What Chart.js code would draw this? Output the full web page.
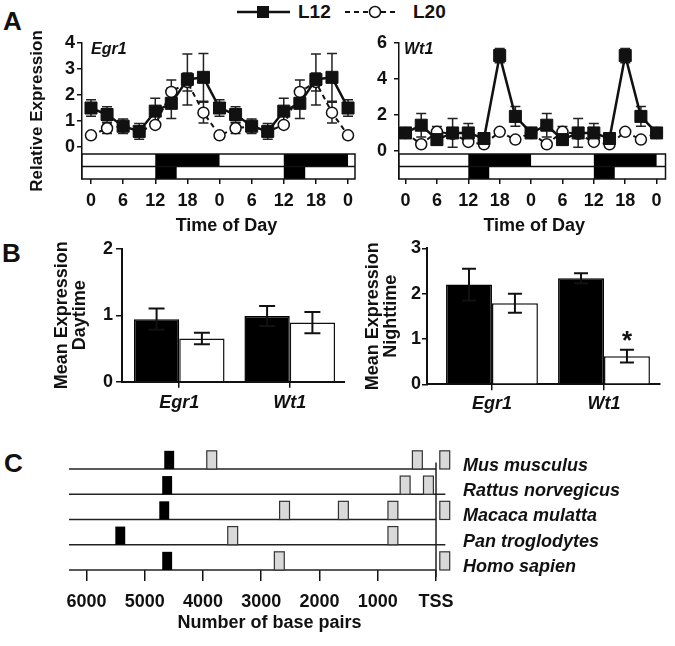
<!DOCTYPE html>
<html><head><meta charset="utf-8">
<script src="https://cdn.jsdelivr.net/npm/chart.js@4.4.1/dist/chart.umd.min.js"></script>
<style>
html,body{margin:0;padding:0;background:#fff;}
#wrap{position:relative;width:675px;height:646px;overflow:hidden;background:#fff;font-family:'Liberation Sans',Arial,sans-serif;color:#111;}
canvas{position:absolute;}
.plbl{position:absolute;font-weight:bold;font-size:26px;line-height:26px;}
.leg{position:absolute;font-weight:bold;font-size:19px;line-height:20px;}
svg{position:absolute;}
</style></head><body>
<div id="wrap">
  <div class="plbl" style="left:3px;top:8px">A</div>
  <div class="plbl" style="left:2px;top:240px">B</div>
  <div class="plbl" style="left:4px;top:450px">C</div>

  <svg style="left:235px;top:2px" width="58" height="20"><line x1="2" y1="10" x2="55" y2="10" stroke="#111" stroke-width="2.5"/><rect x="22" y="4" width="12" height="12" fill="#111"/></svg>
  <div class="leg" style="left:298px;top:2px">L12</div>
  <svg style="left:343px;top:2px" width="58" height="20"><line x1="2" y1="10" x2="54" y2="10" stroke="#111" stroke-width="2" stroke-dasharray="5 4"/><circle cx="32" cy="10" r="5.5" fill="#fff" stroke="#111" stroke-width="1.5"/></svg>
  <div class="leg" style="left:413px;top:2px">L20</div>

  <canvas id="a1" width="365" height="245" style="left:0;top:0"></canvas>
  <canvas id="a2" width="310" height="245" style="left:365px;top:0"></canvas>
  <canvas id="b1" width="345" height="185" style="left:0;top:235px"></canvas>
  <canvas id="b2" width="330" height="185" style="left:345px;top:235px"></canvas>
  <canvas id="c1" width="675" height="221" style="left:0;top:425px"></canvas>
</div>
<script>
// ---------------- DATA ----------------
const hours = [0, 3, 6, 9, 12, 15, 18, 21, 24, 27, 30, 33, 36, 39, 42, 45, 48];
const timeTickHours = [0, 6, 12, 18, 24, 30, 36, 42, 48];
const timeTickLabels = ['0', '6', '12', '18', '0', '6', '12', '18', '0'];
const seriesNames = ['L12', 'L20'];

const egr1L12    = [1.50, 1.25, 0.80, 0.60, 1.38, 1.68, 2.60, 2.68, 1.50, 1.25, 0.80, 0.60, 1.38, 1.68, 2.60, 2.68, 1.50];
const egr1L12Err = [0.32, 0.30, 0.28, 0.30, 0.50, 0.58, 0.98, 0.92, 0.32, 0.30, 0.28, 0.30, 0.50, 0.58, 0.98, 0.92, 0.32];
const egr1L20    = [0.45, 0.72, 0.80, 0.60, 0.85, 2.12, 2.50, 1.32, 0.45, 0.72, 0.80, 0.60, 0.85, 2.12, 2.50, 1.32, 0.45];
const egr1L20Err = [0.05, 0.20, 0.15, 0.15, 0.10, 0.46, 0.35, 0.40, 0.05, 0.20, 0.15, 0.15, 0.10, 0.46, 0.35, 0.40, 0.05];

const wt1L12    = [1.00, 1.43, 0.63, 1.00, 1.00, 0.69, 5.30, 1.92, 1.00, 1.43, 0.63, 1.00, 1.00, 0.69, 5.30, 1.92, 1.00];
const wt1L12Err = [0.15, 0.65, 0.30, 0.80, 0.53, 0.20, 0.40, 0.55, 0.15, 0.65, 0.30, 0.80, 0.53, 0.20, 0.40, 0.55, 0.15];
const wt1L20    = [1.00, 0.37, 1.06, 0.95, 0.50, 0.37, 1.06, 0.63, 1.00, 0.37, 1.06, 0.95, 0.50, 0.37, 1.06, 0.63, 1.00];
const wt1L20Err = [0.10, 0.10, 0.30, 0.10, 0.10, 0.10, 0.10, 0.10, 0.10, 0.10, 0.30, 0.10, 0.10, 0.10, 0.10, 0.10, 0.10];

const darkL12 = [[12, 24], [36, 48]];
const darkL20 = [[12, 16], [36, 40]];
const egr1YTicks = [0, 1, 2, 3, 4];
const wt1YTicks = [0, 2, 4, 6];

const genes = ['Egr1', 'Wt1'];
const dayL12 = [0.94, 0.99];
const dayL12Err = [0.16, 0.15];
const dayL20 = [0.65, 0.89];
const dayL20Err = [0.085, 0.16];
const nightL12 = [2.20, 2.34];
const nightL12Err = [0.35, 0.11];
const nightL20 = [1.79, 0.62];
const nightL20Err = [0.21, 0.14];
const dayYTicks = [0, 1, 2];
const nightYTicks = [0, 1, 2, 3];
const nightSig = [{series: 1, gene: 1, text: '*'}];

const species = ['Mus musculus', 'Rattus norvegicus', 'Macaca mulatta', 'Pan troglodytes', 'Homo sapien'];
const egr1Sites = [4580, 4615, 4665, 5420, 4615];
const wt1Sites = [[3850, 320, -150], [530, 130], [2600, 1590, 740, -150], [3490, 740], [2690, -150]];
const rowLineEnd = [0, -160, 0, -160, 0];
const bpTicks = [0, 1000, 2000, 3000, 4000, 5000, 6000];

// ---------------- SETUP ----------------
const FONT = "'Liberation Sans', Arial, sans-serif";
const AX = '#111';
Chart.defaults.font.family = FONT;
Chart.defaults.color = AX;
Chart.defaults.animation = false;
Chart.defaults.plugins.legend.display = false;
Chart.defaults.plugins.tooltip.enabled = false;
const bold18 = {family: FONT, size: 18, weight: 'bold'};
const ital18 = {family: FONT, size: 18, weight: 'bold', style: 'italic'};

// ---------------- PLUGINS ----------------
function drawErr(chart, o) {
  const {ctx} = chart;
  const y = chart.scales.y;
  ctx.save();
  ctx.strokeStyle = o.color || AX;
  ctx.lineWidth = o.width || 1.5;
  (o.errors || []).forEach((errs, di) => {
    const meta = chart.getDatasetMeta(di);
    const vals = chart.data.datasets[di].data;
    meta.data.forEach((el, i) => {
      const e = errs[i];
      if (!e) return;
      const v = vals[i].y;
      const t = y.getPixelForValue(v + e), b = y.getPixelForValue(v - e);
      const h = o.cap / 2;
      ctx.beginPath();
      ctx.moveTo(el.x, t); ctx.lineTo(el.x, b);
      ctx.moveTo(el.x - h, t); ctx.lineTo(el.x + h, t);
      ctx.moveTo(el.x - h, b); ctx.lineTo(el.x + h, b);
      ctx.stroke();
    });
  });
  ctx.restore();
}
const errorBars = {
  id: 'errorBars',
  beforeDatasetsDraw(chart, a, o) { if (o.layer === 'before') drawErr(chart, o); },
  afterDatasetsDraw(chart, a, o) { if (o.layer === 'after') drawErr(chart, o); }
};

const ldBars = {
  id: 'ldBars',
  beforeDatasetsDraw(chart, a, o) {
    const {ctx, chartArea: ca, scales: {x}} = chart;
    const top = ca.bottom - o.height;
    const rh = o.height / o.rows.length;
    ctx.save();
    ctx.fillStyle = '#fff';
    ctx.fillRect(ca.left, top, ca.right - ca.left, o.height);
    ctx.fillStyle = '#000';
    o.rows.forEach((segs, r) => {
      segs.forEach(([s, e]) => {
        const x0 = Math.max(ca.left, x.getPixelForValue(s));
        const x1 = Math.min(ca.right, x.getPixelForValue(e));
        ctx.fillRect(x0, top + r * rh, x1 - x0, rh);
      });
    });
    ctx.strokeStyle = AX;
    ctx.lineWidth = 1.5;
    ctx.strokeRect(ca.left, top, ca.right - ca.left, o.height);
    for (let r = 1; r < o.rows.length; r++) {
      ctx.beginPath();
      ctx.moveTo(ca.left, top + r * rh); ctx.lineTo(ca.right, top + r * rh);
      ctx.stroke();
    }
    ctx.restore();
  }
};

const cornerLabel = {
  id: 'cornerLabel',
  afterDraw(chart, a, o) {
    if (!o.text) return;
    const {ctx, chartArea: ca} = chart;
    ctx.save();
    ctx.font = 'italic bold 16px ' + FONT;
    ctx.fillStyle = AX;
    ctx.textBaseline = 'middle';
    ctx.fillText(o.text, ca.left + o.dx, ca.top + o.dy);
    ctx.restore();
  }
};

// shifts only the horizontal extent used to centre the axis title
const titleNudge = {
  id: 'titleNudge',
  afterLayout(chart, a, o) {
    if (!o.dx) return;
    const s = chart.scales[o.axis || 'x'];
    s.left += o.dx; s.right += o.dx;
  }
};

const sigMarks = {
  id: 'sigMarks',
  afterDatasetsDraw(chart, a, o) {
    if (!o.marks) return;
    const {ctx} = chart;
    const y = chart.scales.y;
    ctx.save();
    ctx.font = 'bold 26px ' + FONT;
    ctx.fillStyle = AX;
    ctx.textAlign = 'center';
    ctx.textBaseline = 'alphabetic';
    o.marks.forEach(m => {
      const el = chart.getDatasetMeta(m.series).data[m.gene];
      const v = chart.data.datasets[m.series].data[m.gene].y;
      const e = o.errors[m.series][m.gene];
      ctx.fillText(m.text, el.x, y.getPixelForValue(v + e) - 1);
    });
    ctx.restore();
  }
};

const promoter = {
  id: 'promoter',
  afterDraw(chart, a, o) {
    const {ctx, chartArea: ca, scales: {x, y}} = chart;
    const n = species.length;
    ctx.save();
    ctx.strokeStyle = '#222';
    ctx.lineWidth = 1.5;
    species.forEach((s, i) => {
      const py = y.getPixelForValue(n - 1 - i);
      ctx.beginPath();
      ctx.moveTo(x.getPixelForValue(x.max), py);
      ctx.lineTo(x.getPixelForValue(rowLineEnd[i]), py);
      ctx.stroke();
    });
    const tx = x.getPixelForValue(0);
    ctx.beginPath();
    ctx.moveTo(tx, y.getPixelForValue(o.tssTop));
    ctx.lineTo(tx, ca.bottom + 7);
    ctx.stroke();
    const hw = o.siteHalfWidth, bh = o.siteHeight;
    species.forEach((s, i) => {
      const r = n - 1 - i;
      const yb = y.getPixelForValue(r), yt = y.getPixelForValue(r + bh);
      const xa = x.getPixelForValue(egr1Sites[i] + hw), xb = x.getPixelForValue(egr1Sites[i] - hw);
      ctx.fillStyle = '#000';
      ctx.fillRect(xa, yt, xb - xa, yb - yt);
      wt1Sites[i].forEach(p => {
        const x0 = x.getPixelForValue(p + hw), x1 = x.getPixelForValue(p - hw);
        ctx.fillStyle = '#d9d9d9';
        ctx.fillRect(x0, yt, x1 - x0, yb - yt);
        ctx.strokeStyle = '#333';
        ctx.lineWidth = 1.2;
        ctx.strokeRect(x0, yt, x1 - x0, yb - yt);
      });
    });
    ctx.restore();
  }
};

// ---------------- PANEL A ----------------
function timeChart(id, o) {
  return new Chart(document.getElementById(id), {
    type: 'line',
    data: {
      datasets: [
        {label: seriesNames[0], data: hours.map((h, i) => ({x: h, y: o.l12[i]})),
         borderColor: '#111', backgroundColor: '#111', borderWidth: 2.5, tension: 0,
         pointStyle: 'rect', pointRadius: 8.5, pointBackgroundColor: '#111', pointBorderColor: '#111', pointBorderWidth: 1, clip: false},
        {label: seriesNames[1], data: hours.map((h, i) => ({x: h, y: o.l20[i]})),
         borderColor: '#111', borderWidth: 2, borderDash: [5, 4], tension: 0,
         pointStyle: 'circle', pointRadius: 5.5, pointBackgroundColor: '#fff', pointBorderColor: '#111', pointBorderWidth: 1.5, clip: false}
      ]
    },
    options: {
      responsive: false, devicePixelRatio: 1,
      layout: {padding: {top: 43, right: o.padRight, bottom: 0, left: 0}},
      scales: {
        x: {
          type: 'linear', min: o.xmin, max: o.xmax,
          afterBuildTicks: s => { s.ticks = timeTickHours.map(v => ({value: v})); },
          afterFit: s => { s.height = 66; },
          ticks: {font: bold18, color: AX, padding: 6, maxRotation: 0, autoSkip: false, callback: (v, i) => timeTickLabels[i]},
          grid: {drawOnChartArea: false, drawTicks: true, tickLength: 5, color: AX, lineWidth: 1.5},
          border: {display: false},
          title: {display: true, text: 'Time of Day', font: bold18, color: AX, padding: {top: 0, bottom: 8}}
        },
        y: {
          type: 'linear', min: o.ymin, max: o.ymax,
          afterBuildTicks: s => { s.ticks = o.yTicks.map(v => ({value: v})); },
          afterFit: s => { s.width = o.yWidth; },
          ticks: {font: bold18, color: AX, padding: o.yPad},
          grid: {drawOnChartArea: false, drawTicks: true, tickLength: 5, color: AX, lineWidth: 1.5},
          border: {display: true, color: AX, width: 1.5},
          title: o.yTitle ? {display: true, text: o.yTitle, font: {family: FONT, size: 17, weight: 'bold'}, color: AX, padding: {top: 27, bottom: 0}} : {display: false}
        }
      },
      plugins: {
        errorBars: {layer: 'before', errors: [o.l12Err, o.l20Err], cap: 10, width: 1.5, color: '#222'},
        ldBars: {rows: [darkL12, darkL20], height: 25},
        cornerLabel: {text: o.gene, dx: o.gdx, dy: 7},
        titleNudge: {axis: 'x', dx: o.titleDx}
      }
    },
    plugins: [errorBars, ldBars, cornerLabel, titleNudge]
  });
}

timeChart('a1', {l12: egr1L12, l12Err: egr1L12Err, l20: egr1L20, l20Err: egr1L20Err,
  xmin: -1.68, xmax: 49.3, ymin: -1.23, ymax: 4, yTicks: egr1YTicks, yWidth: 82, yPad: 2,
  padRight: 10, yTitle: 'Relative Expression', gene: 'Egr1', gdx: 9, titleDx: 8});
timeChart('a2', {l12: wt1L12, l12Err: wt1L12Err, l20: wt1L20, l20Err: wt1L20Err,
  xmin: -1.25, xmax: 49.7, ymin: -1.56, ymax: 6, yTicks: wt1YTicks, yWidth: 34, yPad: 7,
  padRight: 4, yTitle: null, gene: 'Wt1', gdx: 5, titleDx: 2});

// ---------------- PANEL B ----------------
function barChart(id, o) {
  return new Chart(document.getElementById(id), {
    type: 'bar',
    data: {
      datasets: [
        {label: seriesNames[0], data: genes.map((g, i) => ({x: i, y: o.l12[i]})),
         backgroundColor: '#000', borderColor: '#000', borderWidth: 1.5, categoryPercentage: 0.82, barPercentage: 1},
        {label: seriesNames[1], data: genes.map((g, i) => ({x: i, y: o.l20[i]})),
         backgroundColor: '#fff', borderColor: '#111', borderWidth: 1.5, categoryPercentage: 0.82, barPercentage: 1}
      ]
    },
    options: {
      responsive: false, devicePixelRatio: 1,
      layout: {padding: {top: o.padTop, right: o.padRight, bottom: 0, left: 0}},
      scales: {
        x: {
          type: 'linear', min: o.xmin, max: o.xmax, offset: false,
          afterBuildTicks: s => { s.ticks = genes.map((g, i) => ({value: i})); },
          afterFit: s => { s.height = o.xHeight; },
          ticks: {font: ital18, color: AX, padding: o.xPad, maxRotation: 0, autoSkip: false, callback: (v, i) => genes[i]},
          grid: {drawOnChartArea: false, drawTicks: true, tickLength: 6, color: AX, lineWidth: 1.5, offset: false},
          border: {display: true, color: AX, width: 2}
        },
        y: {
          type: 'linear', min: 0, max: o.ymax,
          afterBuildTicks: s => { s.ticks = o.yTicks.map(v => ({value: v})); },
          afterFit: s => { s.width = o.yWidth; },
          ticks: {font: bold18, color: AX, padding: o.yPad},
          grid: {drawOnChartArea: false, drawTicks: true, tickLength: o.yTick, color: AX, lineWidth: 1.5},
          border: {display: true, color: AX, width: 2},
          title: {display: true, text: ['Mean Expression', o.period], font: {family: FONT, size: 18, weight: 'bold', lineHeight: 1.0}, color: AX, padding: {top: o.titlePad, bottom: 0}}
        }
      },
      plugins: {
        errorBars: {layer: 'after', errors: [o.l12Err, o.l20Err], cap: o.cap, width: 2, color: '#111'},
        sigMarks: {marks: o.marks, errors: [o.l12Err, o.l20Err]}
      }
    },
    plugins: [errorBars, sigMarks]
  });
}

barChart('b1', {l12: dayL12, l12Err: dayL12Err, l20: dayL20, l20Err: dayL20Err,
  xmin: -0.518, xmax: 1.5, ymax: 2, yTicks: dayYTicks, yWidth: 122, yPad: 3, yTick: 6,
  padTop: 11.7, padRight: 0, xHeight: 38.3, xPad: 5, period: 'Daytime', titlePad: 53, cap: 16, marks: null});
barChart('b2', {l12: nightL12, l12Err: nightL12Err, l20: nightL20, l20Err: nightL20Err,
  xmin: -0.58, xmax: 1.5, ymax: 3, yTicks: nightYTicks, yWidth: 82, yPad: 1, yTick: 5,
  padTop: 13.3, padRight: 15, xHeight: 35.7, xPad: 3, period: 'Nighttime', titlePad: 19, cap: 14, marks: nightSig});

// ---------------- PANEL C ----------------
new Chart(document.getElementById('c1'), {
  type: 'scatter',
  data: {datasets: []},
  options: {
    responsive: false, devicePixelRatio: 1,
    layout: {padding: {top: 17.8, left: 69, right: 0, bottom: 0}},
    scales: {
      x: {
        type: 'linear', reverse: true, min: -240, max: 6300, position: 'bottom',
        afterBuildTicks: s => { s.ticks = bpTicks.map(v => ({value: v})); },
        afterFit: s => { s.height = 76; },
        ticks: {font: bold18, color: AX, padding: 10, maxRotation: 0, autoSkip: false, callback: v => v === 0 ? 'TSS' : String(v)},
        grid: {drawOnChartArea: false, drawTicks: true, tickLength: 11, color: AX, lineWidth: 1.5},
        border: {display: false},
        title: {display: true, text: 'Number of base pairs', font: bold18, color: AX, padding: {top: 0, bottom: 12}}
      },
      y: {
        type: 'linear', position: 'right', min: 0, max: 4.8,
        afterBuildTicks: s => { s.ticks = species.map((n, i) => ({value: i})); },
        afterFit: s => { s.width = 225; },
        ticks: {font: ital18, color: AX, padding: 13, labelOffset: -3, callback: v => species[species.length - 1 - v]},
        grid: {display: false, drawTicks: false},
        border: {display: false}
      }
    },
    plugins: {
      promoter: {tssTop: 4.26, siteHalfWidth: 85, siteHeight: 0.72},
      titleNudge: {axis: 'x', dx: 10}
    }
  },
  plugins: [promoter, titleNudge]
});
</script>
</body></html>
